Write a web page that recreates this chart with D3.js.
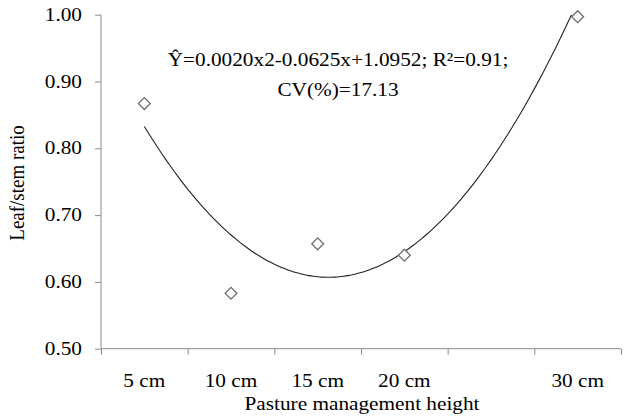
<!DOCTYPE html>
<html>
<head>
<meta charset="utf-8">
<script src="https://cdn.jsdelivr.net/npm/d3@7"></script>
<style>
  body { margin: 0; background: #fff; }
  svg text { font-family: "Liberation Serif", "Times New Roman", serif; fill: #000; }
</style>
</head>
<body>
<div id="chart"></div>
<script>
// chart data
const heights = [5, 10, 15, 20, 30];
const heightLabels = ["5 cm", "10 cm", "15 cm", "20 cm", "30 cm"];
const leafStem = [0.867, 0.583, 0.657, 0.640, 0.997];
const yTicks = [0.50, 0.60, 0.70, 0.80, 0.90, 1.00];
const xTickMarks = [2.5, 7.5, 12.5, 17.5, 22.5, 27.5, 32.5];
const trendCoef = [0.0020, -0.0625, 1.0952]; // a, b, c of the fitted quadratic
const trendRange = [5, 30];
const eqLines = ["Ŷ=0.0020x2-0.0625x+1.0952; R²=0.91;", "CV(%)=17.13"];

const W = 626, H = 417;
const sx = 1.12; // reference text looks slightly stretched sideways
const fs = 19;

const svg = d3.select("#chart").append("svg")
  .attr("width", W).attr("height", H);

const x = d3.scaleLinear().domain([2.5, 32.5]).range([101, 621]);
const y = d3.scaleLinear().domain([0.5, 1.0]).range([348.7, 14.7]);

const axisColor = "#8c8c8c";

// stretched text helper
function label(g, tx, ty, txt, anchor) {
  g.append("g")
    .attr("transform", `translate(${tx},${ty}) scale(${sx},1)`)
    .append("text")
    .attr("text-anchor", anchor)
    .style("font-size", fs + "px")
    .text(txt);
}

// y axis
const yAxis = svg.append("g")
  .attr("transform", `translate(${x.range()[0]},0)`)
  .call(d3.axisLeft(y).tickValues(yTicks).tickSize(6).tickFormat(""));
yAxis.selectAll("line").attr("stroke", axisColor);
yAxis.select(".domain").attr("stroke", axisColor).attr("d", `M0,${y(1.0)}V${y(0.5)}`);
yTicks.forEach(v => label(svg, 82, y(v) + 6, d3.format(".2f")(v), "end"));

// x axis
const xAxis = svg.append("g")
  .attr("transform", `translate(0,${y.range()[0]})`)
  .call(d3.axisBottom(x).tickValues(xTickMarks).tickSize(6).tickFormat(""));
xAxis.selectAll("line").attr("stroke", axisColor);
xAxis.select(".domain").attr("stroke", axisColor).attr("d", `M${x.range()[0]},0H${x.range()[1]}`);
heights.forEach((h, i) => label(svg, x(h), 386.5, heightLabels[i], "middle"));

// axis titles
label(svg, x(17.5) + 1, 410, "Pasture management height", "middle");
svg.append("text")
  .attr("transform", `translate(24,183) rotate(-90) scale(1,${sx})`)
  .attr("text-anchor", "middle")
  .style("font-size", fs + "px")
  .text("Leaf/stem ratio");

// clip for trendline
svg.append("defs").append("clipPath").attr("id", "plotClip")
  .append("rect")
  .attr("x", x.range()[0]).attr("y", y(1.0))
  .attr("width", x.range()[1] - x.range()[0]).attr("height", y(0.5) - y(1.0));

// trendline from the equation shown on the chart
const trendX = d3.range(trendRange[0], trendRange[1] + 0.001, 0.25);
const trend = d3.line()
  .x(d => x(d))
  .y(d => y(trendCoef[0] * d * d + trendCoef[1] * d + trendCoef[2]))
  .curve(d3.curveMonotoneX);
svg.append("path")
  .datum(trendX)
  .attr("clip-path", "url(#plotClip)")
  .attr("d", trend)
  .attr("fill", "none")
  .attr("stroke", "#222")
  .attr("stroke-width", 1.1);

// markers (hollow diamonds)
svg.selectAll(".pt")
  .data(heights)
  .join("path")
  .attr("class", "pt")
  .attr("transform", (d, i) => `translate(${x(d)},${y(leafStem[i])})`)
  .attr("d", d3.symbol(d3.symbolSquare, 70))
  .attr("transform", (d, i) => `translate(${x(d)},${y(leafStem[i])}) rotate(45)`)
  .attr("fill", "#fff")
  .attr("stroke", "#6e6e6e")
  .attr("stroke-width", 1.3);

// equation text
label(svg, 338, 66, eqLines[0], "middle");
label(svg, 338, 96, eqLines[1], "middle");
</script>
</body>
</html>
